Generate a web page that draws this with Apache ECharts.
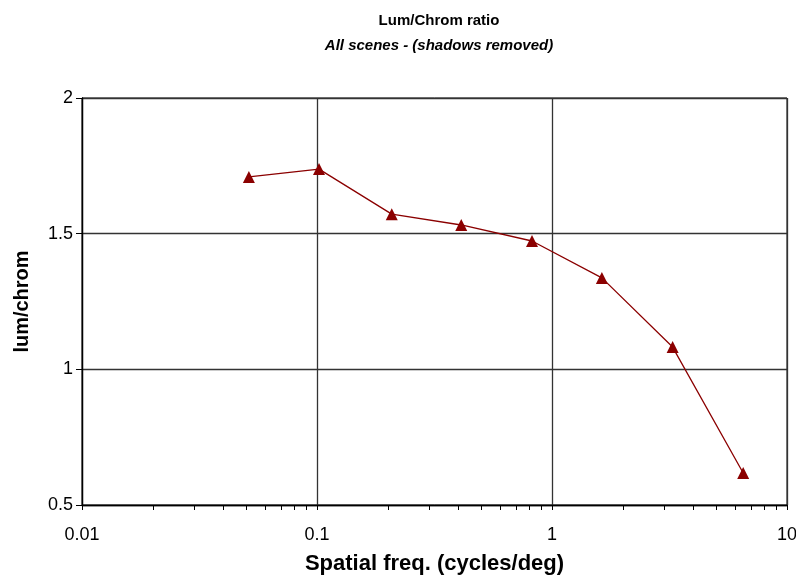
<!DOCTYPE html>
<html><head><meta charset="utf-8">
<script src="https://cdn.jsdelivr.net/npm/echarts@6/dist/echarts.min.js"></script>
<style>html,body{margin:0;padding:0;background:#fff}#c{width:796px;height:576px}</style>
</head><body><div id="c"></div>
<script>
const freqs = [0.0513, 0.102, 0.208, 0.411, 0.822, 1.63, 3.26, 6.51];
const ratios = [1.709, 1.738, 1.572, 1.532, 1.473, 1.337, 1.082, 0.618];
const minorTickValues = [0.02,0.03,0.04,0.05,0.06,0.07,0.08,0.09,0.2,0.3,0.4,0.5,0.6,0.7,0.8,0.9,2,3,4,5,6,7,8,9];
const titleText = 'Lum/Chrom ratio';
const subtitleText = 'All scenes - (shadows removed)';
const xName = 'Spatial freq. (cycles/deg)';
const yName = 'lum/chrom';

const font = 'Liberation Sans, Arial, sans-serif';
const chart = echarts.init(document.getElementById('c'));
chart.setOption({
  animation: false,
  backgroundColor: '#fff',
  title: {
    text: titleText, subtext: subtitleText, left: 434, top: 8, textAlign: 'center', itemGap: 10,
    textStyle: {fontFamily: font, fontSize: 15, fontWeight: 'bold', color: '#000'},
    subtextStyle: {fontFamily: font, fontSize: 15, fontWeight: 'bold', fontStyle: 'italic', color: '#000'}
  },
  grid: {left: 82, right: 9, top: 98, bottom: 71, show: true, borderColor: '#000', borderWidth: 1,
    outerBoundsMode: 'none', containLabel: false},
  xAxis: {
    type: 'log', logBase: 10, min: 0.01, max: 10,
    name: xName, nameLocation: 'middle', nameGap: 48,
    nameTextStyle: {fontFamily: font, fontSize: 22, fontWeight: 'bold', color: '#000'},
    axisLine: {lineStyle: {color: '#000', width: 1.3}},
    axisTick: {show: true, length: 5, inside: false, lineStyle: {color: '#000'}},
    axisLabel: {fontFamily: font, fontSize: 18, color: '#000', margin: 21,
      formatter: v => String(v)},
    splitLine: {show: true, lineStyle: {color: '#333', width: 1.3}}
  },
  yAxis: {
    type: 'value', min: 0.5, max: 2, interval: 0.5,
    name: yName, nameLocation: 'middle', nameGap: 50,
    nameTextStyle: {fontFamily: font, fontSize: 20, fontWeight: 'bold', color: '#000'},
    axisLine: {show: true, lineStyle: {color: '#000', width: 1.3}},
    axisTick: {show: true, length: 6, lineStyle: {color: '#000'}},
    axisLabel: {fontFamily: font, fontSize: 18, color: '#000', margin: 9,
      formatter: v => String(v)},
    splitLine: {show: true, lineStyle: {color: '#333', width: 1.3}}
  },
  series: [
    {
      type: 'line',
      data: freqs.map((f, i) => [f, ratios[i]]),
      symbol: 'triangle', symbolSize: 12,
      lineStyle: {color: '#8B0000', width: 1.3},
      itemStyle: {color: '#8B0000'},
      z: 5
    },
    {
      type: 'custom',
      coordinateSystem: 'cartesian2d',
      data: minorTickValues.map(v => [v, 0.5]),
      silent: true,
      clip: false,
      renderItem: function (params, api) {
        const p = api.coord([api.value(0), api.value(1)]);
        const x = Math.round(p[0]) + 0.5;
        return {type: 'line', shape: {x1: x, y1: p[1], x2: x, y2: p[1] + 5},
          style: {stroke: '#000', lineWidth: 1}};
      },
      z: 3
    }
  ]
});
</script></body></html>
